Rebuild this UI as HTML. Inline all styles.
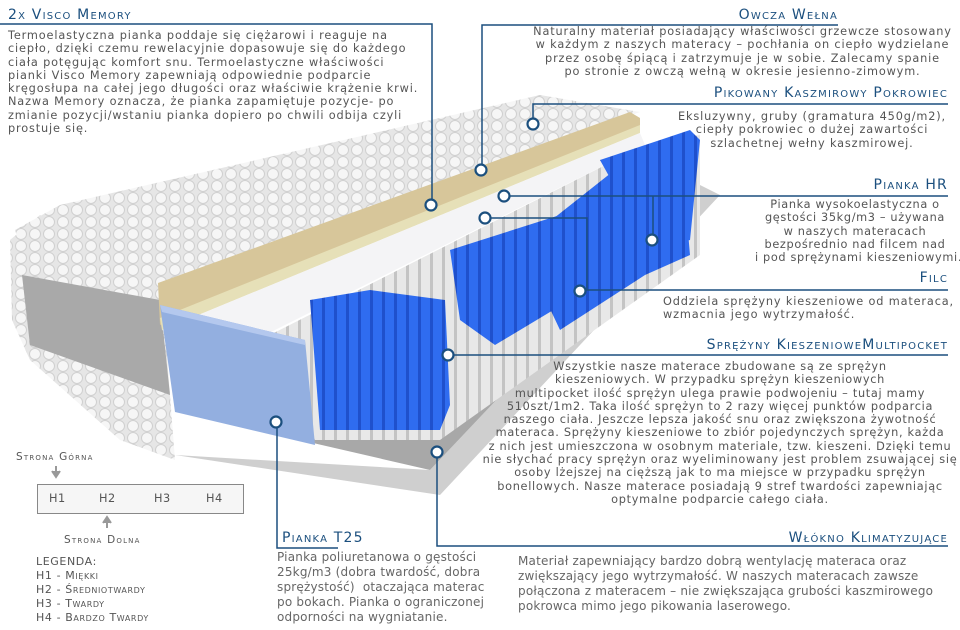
<!DOCTYPE html>
<html><head><meta charset="utf-8"><style>
body{margin:0;width:960px;height:630px;background:#fff;position:relative;overflow:hidden;font-family:"DejaVu Sans","Liberation Sans",sans-serif;}
.t{position:absolute;font-size:11.3px;letter-spacing:0.85px;color:#555;line-height:13.3px;white-space:nowrap;}
.h{position:absolute;font-size:14px;font-variant:small-caps;letter-spacing:1.2px;color:#1b4f7e;white-space:nowrap;line-height:14px;}
.c{text-align:center}.r{text-align:right}
.b{position:absolute;font-size:12px;color:#666;line-height:15px;white-space:nowrap;letter-spacing:0.2px;}
.g{position:absolute;font-size:10.5px;font-variant:small-caps;letter-spacing:1.2px;color:#555;white-space:nowrap}
svg{position:absolute;left:0;top:0}
</style></head><body>
<svg width="960" height="630">
<defs>
<pattern id="q" width="14" height="12" patternUnits="userSpaceOnUse"><rect width="14" height="12" fill="#e6e6e6"/><circle cx="7" cy="6" r="5.5" fill="#f6f6f6" stroke="#d0d0d0" stroke-width="1"/></pattern>
<pattern id="sp" width="12" height="10" patternUnits="userSpaceOnUse"><rect width="12" height="10" fill="#1f50cc"/><rect x="1" y="0" width="9" height="10" fill="#2f6cf0"/></pattern>
<pattern id="sw" width="12" height="10" patternUnits="userSpaceOnUse"><rect width="12" height="10" fill="#c4c4c4"/><rect x="1" y="0" width="9" height="10" fill="#e8e8e8"/></pattern>
</defs>
<polygon points="175,455 440,495 720,195 700,185 430,470" fill="#cfcfcf"/>
<polygon points="300,440 430,470 700,185 640,180 330,410" fill="#a8a8a8"/>
<polygon points="10,240 40,215 160,265 175,460 120,440 30,360 12,320" fill="url(#q)"/>
<polygon points="22,275 160,300 170,395 30,345" fill="#a9a9a9"/>
<polygon points="15,230 60,205 540,95 640,112 160,285 20,245" fill="url(#q)"/>
<polygon points="158,283 630,112 640,118 640,130 160,325" fill="#d7c69a"/>
<polygon points="160,318 640,125 640,133 162,330" fill="#e6e0b8"/>
<polygon points="162,330 640,133 645,145 255,340 215,348" fill="#f4f4f6"/>
<polygon points="215,345 255,335 257,345 217,352" fill="#dcdcdc"/>
<polygon points="260,340 645,145 700,135 700,255 440,440 315,440" fill="url(#sw)"/>
<polygon points="520,245 640,150 680,140 690,255 645,275 560,330" fill="url(#sp)"/>
<polygon points="450,250 560,215 610,220 570,300 495,345 460,320" fill="url(#sp)"/>
<polygon points="600,160 690,130 700,140 690,240 650,250" fill="url(#sp)"/>
<polygon points="310,300 370,290 445,300 450,405 440,430 320,430" fill="url(#sp)"/>
<polygon points="160,305 305,340 315,445 175,412" fill="#93afe0"/>
<polygon points="160,305 305,340 305,345 162,312" fill="#b4c8ee"/>
<g stroke="#1b4f7e" stroke-width="1.5" fill="none">
<path d="M0 24H432V205"/>
<path d="M482 170V25H838"/>
<path d="M533 124V104H948"/>
<path d="M504 196H948M653 196V240"/>
<path d="M485 218H587V290H948"/>
<path d="M448 355H948"/>
<path d="M277 422V548H338"/>
<path d="M437 452V546H948"/>
</g>
<g stroke="#1b4f7e" stroke-width="2.2" fill="#fff">
<circle cx="431" cy="205" r="5.5"/><circle cx="481" cy="170" r="5.5"/><circle cx="533" cy="124" r="5.5"/>
<circle cx="504" cy="196" r="5.5"/><circle cx="485" cy="218" r="5.5"/><circle cx="652" cy="240" r="5.5"/>
<circle cx="580" cy="291" r="5.5"/><circle cx="448" cy="355" r="5.5"/><circle cx="276" cy="422" r="5.5"/>
<circle cx="437" cy="452" r="5.5"/>
</g>
<rect x="37.5" y="484.5" width="206" height="29" fill="#f6f6f6" stroke="#888"/>
<path d="M56 466V474M52 471L56 477L60 471" stroke="#999" stroke-width="2" fill="#999"/>
<path d="M107 528V520M103 523L107 517L111 523" stroke="#999" stroke-width="2" fill="#999"/>
</svg>

<div class="h" style="left:8px;top:8px">2x Visco Memory</div>
<div class="t" style="left:8px;top:29px">Termoelastyczna pianka poddaje się ciężarowi i reaguje na<br>ciepło, dzięki czemu rewelacyjnie dopasowuje się do każdego<br>ciała potęgując komfort snu. Termoelastyczne właściwości<br>pianki Visco Memory zapewniają odpowiednie podparcie<br>kręgosłupa na całej jego długości oraz właściwie krążenie krwi.<br>Nazwa Memory oznacza, że pianka zapamiętuje pozycje- po<br>zmianie pozycji/wstaniu pianka dopiero po chwili odbija czyli<br>prostuje się.</div>

<div class="h r" style="right:122px;top:8px">Owcza Wełna</div>
<div class="t c" style="left:515px;width:455px;top:25px">Naturalny materiał posiadający właściwości grzewcze stosowany<br>w każdym z naszych materacy – pochłania on ciepło wydzielane<br>przez osobę śpiącą i zatrzymuje je w sobie. Zalecamy spanie<br>po stronie z owczą wełną w okresie jesienno-zimowym.</div>

<div class="h r" style="right:12px;top:86px">Pikowany Kaszmirowy Pokrowiec</div>
<div class="t c" style="left:666px;width:292px;top:110px">Eksluzywny, gruby (gramatura 450g/m2),<br>ciepły pokrowiec o dużej zawartości<br>szlachetnej wełny kaszmirowej.</div>

<div class="h r" style="right:12px;top:178px">Pianka HR</div>
<div class="t c" style="left:755px;width:200px;top:198px;letter-spacing:0.65px">Pianka wysokoelastyczna o<br>gęstości 35kg/m3 – używana<br>w naszych materacach<br>bezpośrednio nad filcem nad<br>i pod sprężynami kieszeniowymi.</div>

<div class="h r" style="right:12px;top:271px">Filc</div>
<div class="t" style="left:663px;top:295px">Oddziela sprężyny kieszeniowe od materaca,<br>wzmacnia jego wytrzymałość.</div>

<div class="h r" style="right:12px;top:338px">Sprężyny KieszenioweMultipocket</div>
<div class="t c" style="left:475px;width:490px;top:360px;letter-spacing:0.7px">Wszystkie nasze materace zbudowane są ze sprężyn<br>kieszeniowych. W przypadku sprężyn kieszeniowych<br>multipocket ilość sprężyn ulega prawie podwojeniu – tutaj mamy<br>510szt/1m2. Taka ilość sprężyn to 2 razy więcej punktów podparcia<br>naszego ciała. Jeszcze lepsza jakość snu oraz zwiększona żywotność<br>materaca. Sprężyny kieszeniowe to zbiór pojedynczych sprężyn, każda<br>z nich jest umieszczona w osobnym materiale, tzw. kieszeni. Dzięki temu<br>nie słychać pracy sprężyn oraz wyeliminowany jest problem zsuwającej się<br>osoby lżejszej na cięższą jak to ma miejsce w przypadku sprężyn<br>bonellowych. Nasze materace posiadają 9 stref twardości zapewniając<br>optymalne podparcie całego ciała.</div>

<div class="h" style="left:282px;top:531px">Pianka T25</div>
<div class="b" style="left:277px;top:550px">Pianka poliuretanowa o gęstości<br>25kg/m3 (dobra twardość, dobra<br>sprężystość)&nbsp; otaczająca materac<br>po bokach. Pianka o ograniczonej<br>odporności na wygniatanie.</div>

<div class="h r" style="right:12px;top:531px">Włókno Klimatyzujące</div>
<div class="b" style="left:518px;top:554px">Materiał zapewniający bardzo dobrą wentylację materaca oraz<br>zwiększający jego wytrzymałość. W naszych materacach zawsze<br>połączona z materacem – nie zwiększająca grubości kaszmirowego<br>pokrowca mimo jego pikowania laserowego.</div>

<div class="g" style="left:16px;top:451px">Strona Górna</div>
<div class="g" style="left:64px;top:534px">Strona Dolna</div>
<div class="t" style="left:49px;top:492px;letter-spacing:0.5px">H1</div>
<div class="t" style="left:99px;top:492px;letter-spacing:0.5px">H2</div>
<div class="t" style="left:154px;top:492px;letter-spacing:0.5px">H3</div>
<div class="t" style="left:206px;top:492px;letter-spacing:0.5px">H4</div>
<div class="t" style="left:36px;top:555px;line-height:14px;font-size:11px;letter-spacing:0.6px">LEGENDA:<br>H1 - <span style="font-variant:small-caps">Miękki</span><br>H2 - <span style="font-variant:small-caps">Średniotwardy</span><br>H3 - <span style="font-variant:small-caps">Twardy</span><br>H4 - <span style="font-variant:small-caps">Bardzo Twardy</span></div>
</body></html>
